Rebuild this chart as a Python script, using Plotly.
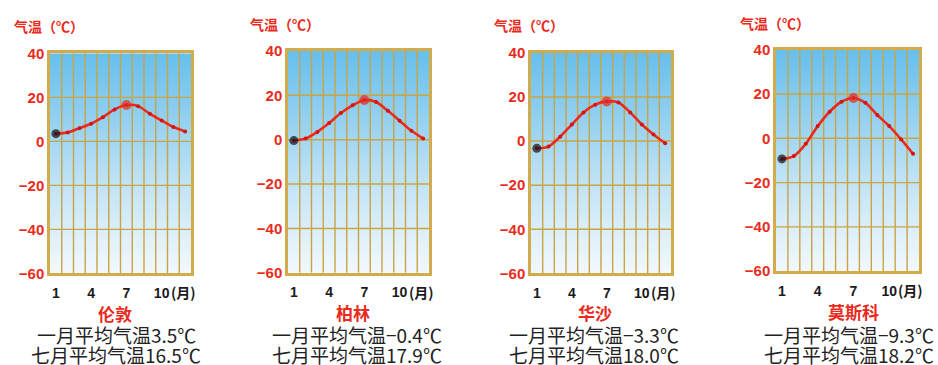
import plotly.graph_objects as go

# Monthly mean temperatures (°C), January to December
months = list(range(1, 13))
cities = ["伦敦", "柏林", "华沙", "莫斯科"]
london = [3.5, 4.0, 6.0, 8.0, 11.0, 14.5, 16.5, 16.0, 12.5, 9.5, 6.5, 4.5]
berlin = [-0.4, 0.5, 3.5, 7.5, 12.0, 15.5, 17.9, 17.0, 13.0, 8.5, 4.0, 0.5]
warsaw = [-3.3, -2.5, 2.0, 7.5, 13.0, 16.5, 18.0, 17.5, 13.0, 7.5, 3.0, -1.0]
moscow = [-9.3, -8.0, -2.5, 5.5, 12.0, 16.5, 18.2, 16.0, 10.5, 5.5, -0.5, -7.0]
series = [london, berlin, warsaw, moscow]

x_ticks = [1, 4, 7, 10]
y_ticks = [-60, -40, -20, 0, 20, 40]
month_bounds = [m + 0.5 for m in months[:-1]]
x_range = [0.5, 12.5]
y_range = [-60, 40]

# Panel boxes in pixels (left, right, top, bottom)
W, H = 938, 365
boxes = [(50, 191, 46.5, 277.3), (288, 429, 44, 276.7),
         (531, 671, 46, 277.3), (776, 919, 42.7, 275)]
title_pos = [(12, 18), (248, 16), (492, 17), (738, 15)]
name_pos = [(115, 319), (353, 318), (595, 318), (853, 317)]
text_cx = [116, 357, 594, 849]
line_y = [341, 362]

RED = "#ea2a1c"
GOLD = "#d1ab4c"
GRID = "#c8a444"
CJK = "Noto Sans CJK SC"
LATIN = "Liberation Sans, Arial, sans-serif"


def fmt(v):
    return f"{v:.1f}".replace("-", "−")


def px(x):
    return x / W


def py(y):
    return 1 - y / H


fig = go.Figure()
annotations = []

for i, (temps, name, box) in enumerate(zip(series, cities, boxes)):
    n = "" if i == 0 else str(i + 1)
    xa, ya = "x" + n, "y" + n
    l, r, t, b = box

    # gradient background of the plotting area
    fig.add_trace(go.Scatter(
        x=[x_range[0], x_range[1], x_range[1], x_range[0], x_range[0]],
        y=[y_range[0], y_range[0], y_range[1], y_range[1], y_range[0]],
        fill="toself", mode="lines", line=dict(width=0),
        fillgradient=dict(type="vertical", start=y_range[0], stop=y_range[1],
                          colorscale=[[0, "#f7fbfe"], [0.2, "#e0f0fa"],
                                      [0.45, "#bfe2f5"], [0.7, "#96d1f0"],
                                      [1, "#66bfec"]]),
        hoverinfo="skip", showlegend=False, xaxis=xa, yaxis=ya))

    # grid: month boundaries and every 20 °C
    gx, gy = [], []
    for m in month_bounds:
        gx += [m, m, None]
        gy += [y_range[0], y_range[1], None]
    for v in y_ticks[1:-1]:
        gx += [x_range[0], x_range[1], None]
        gy += [v, v, None]
    fig.add_trace(go.Scatter(x=gx, y=gy, mode="lines",
                             line=dict(color=GRID, width=1.4),
                             hoverinfo="skip", showlegend=False,
                             xaxis=xa, yaxis=ya))

    # temperature curve
    fig.add_trace(go.Scatter(
        x=months, y=temps, mode="lines+markers",
        line=dict(color=RED, width=2.6, shape="spline", smoothing=0.8),
        marker=dict(color="#d3140f", size=4, line=dict(width=0)),
        hoverinfo="skip", showlegend=False, xaxis=xa, yaxis=ya))
    # January and July highlighted
    fig.add_trace(go.Scatter(
        x=[months[0], months[6]], y=[temps[0], temps[6]], mode="markers",
        marker=dict(color=["#111111", RED], size=[9, 10], line=dict(width=0)),
        hoverinfo="skip", showlegend=False, xaxis=xa, yaxis=ya))

    fig.update_layout({
        "xaxis" + n: dict(domain=[px(l), px(r)], range=x_range,
                          tickvals=x_ticks, ticktext=[str(v) for v in x_ticks],
                          showgrid=False, zeroline=False, ticks="",
                          showline=True, mirror=True, linecolor=GOLD, linewidth=2.5,
                          tickfont=dict(family=LATIN, size=14, color="#1a1a1a",
                                        weight="bold"),
                          ticklabelstandoff=5, anchor=ya, fixedrange=True),
        "yaxis" + n: dict(domain=[py(b), py(t)], range=y_range,
                          tickvals=y_ticks, showgrid=False, zeroline=False,
                          ticks="", showline=True, mirror=True, linecolor=GOLD,
                          linewidth=2.5,
                          tickfont=dict(family=LATIN, size=15, color=RED,
                                        weight="bold"),
                          ticklabelstandoff=0, anchor=xa, fixedrange=True),
    })

    tx, ty = title_pos[i]
    annotations.append(dict(text="<b>气温（℃）</b>", x=px(tx), y=py(ty),
                            xref="paper", yref="paper", xanchor="left",
                            yanchor="middle", showarrow=False,
                            font=dict(family=CJK, size=14, color=RED)))
    annotations.append(dict(text="<b>(月)</b>", x=x_ticks[-1], xshift=7,
                            y=py(b + 20), xref=xa, yref="paper",
                            xanchor="left", yanchor="middle", showarrow=False,
                            font=dict(family=CJK, size=14, color="#1a1a1a")))
    nx, ny = name_pos[i]
    annotations.append(dict(text=f"<b>{name}</b>", x=px(nx), y=py(ny),
                            xref="paper", yref="paper", xanchor="center",
                            yanchor="middle", showarrow=False,
                            font=dict(family=CJK, size=17, color=RED)))
    cx = text_cx[i]
    annotations.append(dict(text=f"一月平均气温{fmt(temps[0])}℃", x=px(cx),
                            y=py(line_y[0]), xref="paper", yref="paper",
                            xanchor="center", yanchor="middle", showarrow=False,
                            font=dict(family=CJK, size=19, color="#222222")))
    annotations.append(dict(text=f"七月平均气温{fmt(temps[6])}℃", x=px(cx),
                            y=py(line_y[1]), xref="paper", yref="paper",
                            xanchor="center", yanchor="middle", showarrow=False,
                            font=dict(family=CJK, size=19, color="#222222")))

fig.update_layout(width=W, height=H, margin=dict(l=0, r=0, t=0, b=0),
                  paper_bgcolor="white", plot_bgcolor="white",
                  hovermode=False, annotations=annotations)

fig.write_html("out.html", config={"displayModeBar": False})
